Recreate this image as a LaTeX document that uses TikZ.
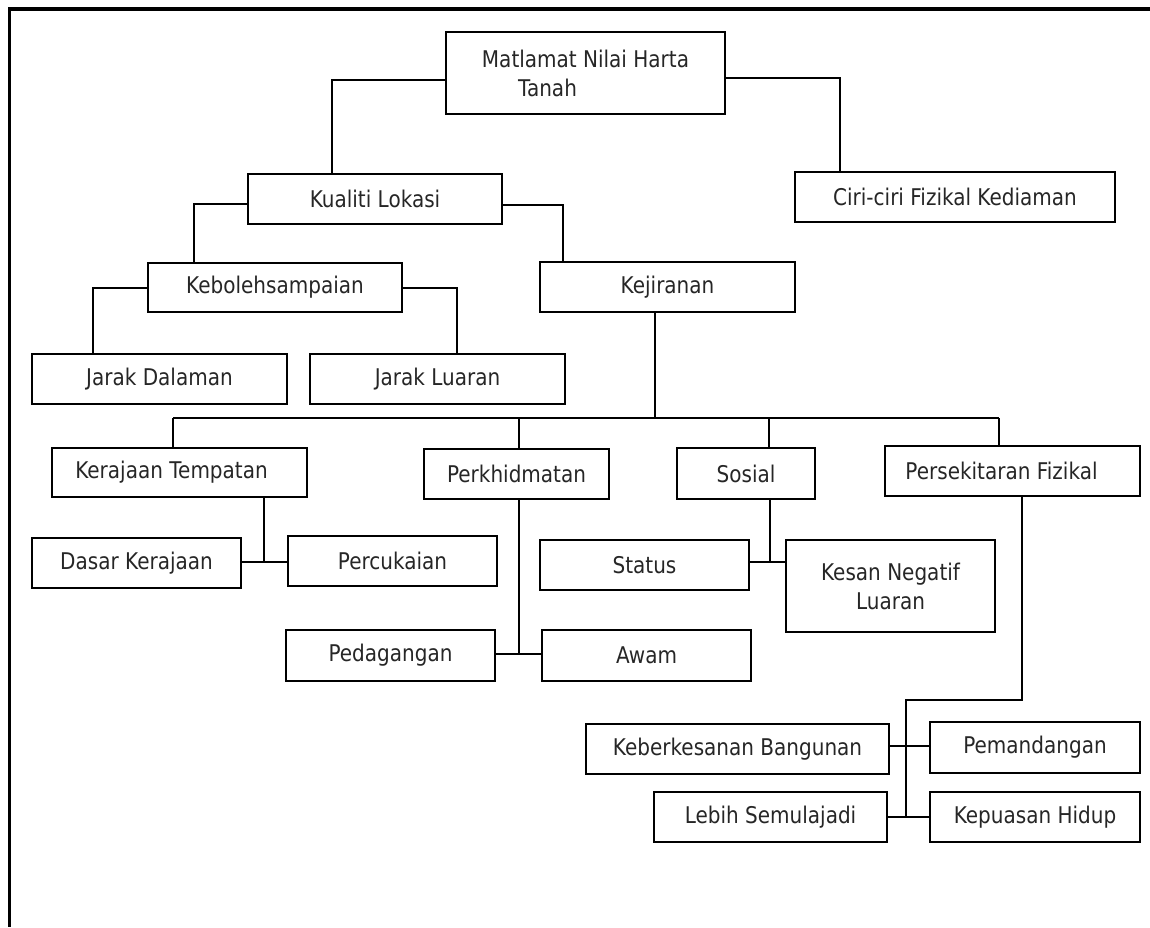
\documentclass[tikz,border=0pt]{standalone}
\usepackage{fontspec}
\setmainfont[FakeStretch=0.87]{DejaVu Sans}
\begin{document}
\begin{tikzpicture}[x=1pt,y=-1pt,
  box/.style={draw=black, line width=2pt, inner sep=0pt, text=black!85,
    font=\fontsize{23}{29}\selectfont, align=center},
  conn/.style={draw=black, line width=2pt},
  frame/.style={draw=black, line width=3.5pt}]
\useasboundingbox (0,0) rectangle (1150,927);
% frame (top and left edges)
\draw[frame] (1150,9) -- (9.5,9) -- (9.5,927);
% boxes
\node[box, minimum width=279pt, minimum height=82pt] (mat) at (585.5,73) {Matlamat Nilai Harta\\Tanah\hspace*{76pt}};
\node[box, minimum width=320pt, minimum height=50pt] (ciri) at (955,197) {Ciri-ciri Fizikal Kediaman};
\node[box, minimum width=254pt, minimum height=50pt] (kual) at (375,199) {Kualiti Lokasi};
\node[box, minimum width=254pt, minimum height=49pt] (kebo) at (275,287.5) {Kebolehsampaian};
\node[box, minimum width=255pt, minimum height=50pt] (keji) at (667.5,287) {Kejiranan};
\node[box, minimum width=255pt, minimum height=50pt] (jd) at (159.5,379) {Jarak Dalaman};
\node[box, minimum width=255pt, minimum height=50pt] (jl) at (437.5,379) {Jarak Luaran};
\node[box, minimum width=255pt, minimum height=49pt] (kt) at (179.5,472.5) {Kerajaan Tempatan\hspace*{16pt}};
\node[box, minimum width=185pt, minimum height=50pt] (perk) at (516.5,474) {Perkhidmatan};
\node[box, minimum width=138pt, minimum height=51pt] (sos) at (746,473.5) {Sosial};
\node[box, minimum width=255pt, minimum height=50pt] (pf) at (1012.5,471) {Persekitaran Fizikal\hspace*{22pt}};
\node[box, minimum width=209pt, minimum height=50pt] (dk) at (136.5,563) {Dasar Kerajaan};
\node[box, minimum width=209pt, minimum height=50pt] (perc) at (392.5,561) {Percukaian};
\node[box, minimum width=209pt, minimum height=50pt] (stat) at (644.5,565) {Status};
\node[box, minimum width=209pt, minimum height=92pt] (kesan) at (890.5,586) {Kesan Negatif\\Luaran};
\node[box, minimum width=209pt, minimum height=51pt] (peda) at (390.5,655.5) {Pedagangan};
\node[box, minimum width=209pt, minimum height=51pt] (awam) at (646.5,655.5) {Awam};
\node[box, minimum width=303pt, minimum height=50pt] (kebb) at (737.5,749) {Keberkesanan Bangunan};
\node[box, minimum width=210pt, minimum height=51pt] (pem) at (1035,747.5) {Pemandangan};
\node[box, minimum width=233pt, minimum height=50pt] (lebih) at (770.5,817) {Lebih Semulajadi};
\node[box, minimum width=210pt, minimum height=50pt] (kep) at (1035,817) {Kepuasan Hidup};
% bend coordinates
\coordinate (c1) at (332,0);
\coordinate (c2) at (840,0);
\coordinate (c3) at (194,0);
\coordinate (c4) at (563,0);
\coordinate (c5) at (93,0);
\coordinate (c6) at (457,0);
\coordinate (kejx) at (655,0);
\coordinate (bus) at (0,418);
\coordinate (busL) at (173,418);
\coordinate (busR) at (999,418);
\coordinate (perkx) at (519,0);
\coordinate (sosx) at (769,0);
\coordinate (ktx) at (264,0);
\coordinate (j1) at (264,562);
\coordinate (j2) at (519,654);
\coordinate (j3) at (770,562);
\coordinate (pfx) at (1022,0);
\coordinate (pfb) at (1022,700);
\coordinate (pfc) at (906,700);
\coordinate (pfd) at (906,817);
% connectors
\draw[conn] ([yshift=-7pt]mat.west) -| (c1 |- kual.north);
\draw[conn] ([yshift=-5pt]mat.east) -| (c2 |- ciri.north);
\draw[conn] ([yshift=-5pt]kual.west) -| (c3 |- kebo.north);
\draw[conn] ([yshift=-6pt]kual.east) -| (c4 |- keji.north);
\draw[conn] (kebo.west) -| (c5 |- jd.north);
\draw[conn] (kebo.east) -| (c6 |- jl.north);
\draw[conn] (kejx |- keji.south) -- (kejx |- bus);
\draw[conn] (busL) -- (busR);
\draw[conn] (busL) -- (busL |- kt.north);
\draw[conn] (perkx |- bus) -- (perkx |- perk.north);
\draw[conn] (sosx |- bus) -- (sosx |- sos.north);
\draw[conn] (busR) -- (busR |- pf.north);
\draw[conn] (ktx |- kt.south) -- (j1);
\draw[conn] (dk.east |- j1) -- (perc.west |- j1);
\draw[conn] (perkx |- perk.south) -- (j2);
\draw[conn] (peda.east |- j2) -- (awam.west |- j2);
\draw[conn] (j3 |- sos.south) -- (j3);
\draw[conn] (stat.east |- j3) -- (kesan.west |- j3);
\draw[conn] (pfx |- pf.south) -- (pfb) -- (pfc) -- (pfd);
\draw[conn] (kebb.east |- 0,746) -- (pem.west |- 0,746);
\draw[conn] (lebih.east |- pfd) -- (kep.west |- pfd);
\end{tikzpicture}
\end{document}
